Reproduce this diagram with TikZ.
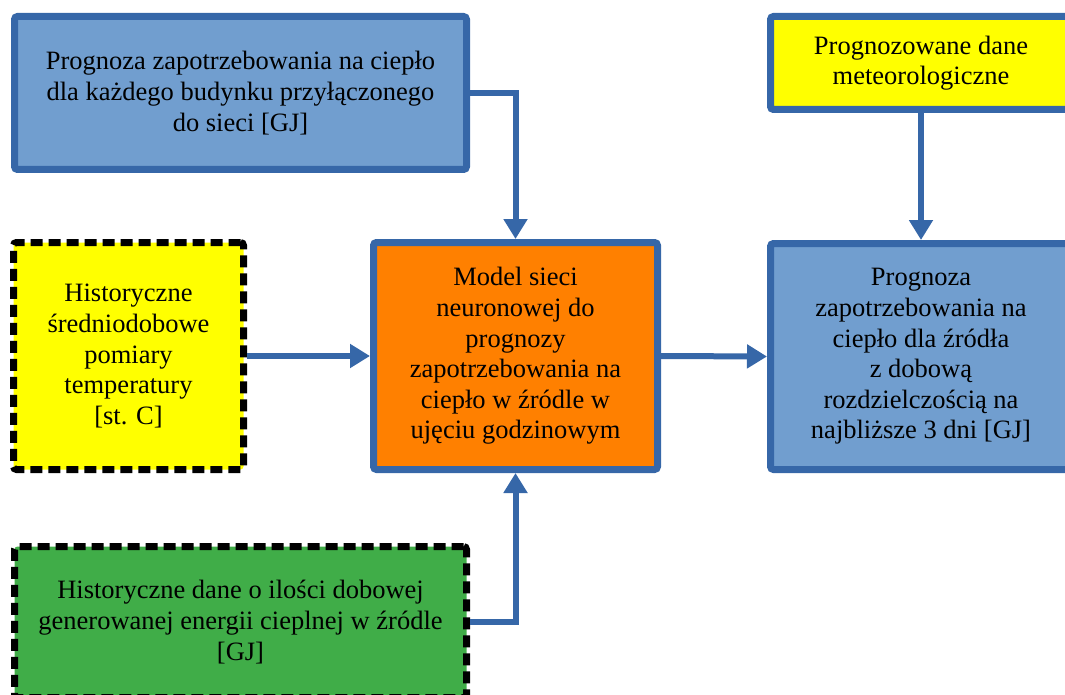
\documentclass[tikz,border=0pt]{standalone}
\usepackage{fontspec}
\setmainfont{Liberation Serif}
\usetikzlibrary{arrows.meta}
\definecolor{boxblue}{RGB}{54,103,168}
\definecolor{fillblue}{RGB}{113,158,207}
\definecolor{fillorange}{RGB}{255,128,0}
\definecolor{fillyellow}{RGB}{255,255,0}
\definecolor{fillgreen}{RGB}{64,173,72}
\begin{document}
\begin{tikzpicture}[x=1pt,y=-1pt,
  box/.style={rectangle, rounded corners=3pt, line width=7pt, align=center,
    inner sep=0pt, font=\fontsize{26.5}{30.6}\selectfont,
    execute at begin node={\rule{0pt}{23.5pt}}},
  solidbox/.style={box, draw=boxblue},
  dashbox/.style={box, draw=black, dash pattern=on 12pt off 6pt},
  flow/.style={draw=boxblue, line width=6pt,
    -{Triangle[length=20pt,width=23pt]}}]
\clip (0,0) rectangle (1065,695);

% input: building-level demand forecast
\node[solidbox, fill=fillblue, minimum width=452pt, minimum height=153pt]
  (bud) at (240.5,93)
  {Prognoza zapotrzebowania na ciepło\\dla każdego budynku przyłączonego\\do sieci [GJ]};

% input: historical temperatures
\node[dashbox, fill=fillyellow, minimum width=230pt, minimum height=227pt]
  (temp) at (128.5,356)
  {Historyczne\\średniodobowe\\pomiary\\temperatury\hspace*{20pt}\\{[}st. C{]}};

% neural network model
\node[solidbox, fill=fillorange, minimum width=284pt, minimum height=227pt]
  (model) at (515.5,356)
  {Model sieci\\neuronowej do\\prognozy\\zapotrzebowania na\\ciepło w źródle w\\ujęciu godzinowym};

% input: historical generated energy
\node[dashbox, fill=fillgreen, minimum width=452pt, minimum height=151pt]
  (hist) at (240.5,622)
  {Historyczne dane o ilości dobowej\\generowanej energii cieplnej w źródle\\{[}GJ{]}};

% input: weather forecast
\node[solidbox, fill=fillyellow, minimum width=301pt, minimum height=93pt]
  (meteo) at (921,63)
  {Prognozowane dane\\meteorologiczne};

% output: source demand forecast
\node[solidbox, fill=fillblue, minimum width=301pt, minimum height=226pt]
  (out) at (921,356.5)
  {Prognoza\\zapotrzebowania na\\ciepło dla źródła\\z dobową\\rozdzielczością na\\najbliższe 3 dni [GJ]};

% connectors
\draw[flow] (bud.east) -| (model.north);
\draw[flow] (temp.east) -- (model.west);
\draw[flow] (hist.east) -| (model.south);
\draw[flow] (model.east) -- (out.west);
\draw[flow] (meteo.south) -- (out.north);
\end{tikzpicture}
\end{document}
